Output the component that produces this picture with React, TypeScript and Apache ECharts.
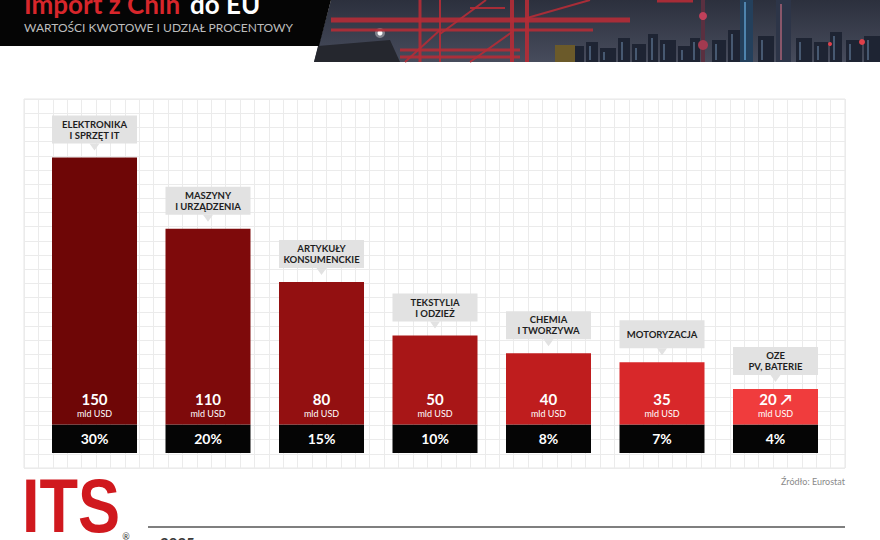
import React, { useEffect, useRef } from 'react';
import * as echarts from 'echarts';

// ---- data ----
const categories = [
  'ELEKTRONIKA\nI SPRZĘT IT',
  'MASZYNY\nI URZĄDZENIA',
  'ARTYKUŁY\nKONSUMENCKIE',
  'TEKSTYLIA\nI ODZIEŻ',
  'CHEMIA\nI TWORZYWA',
  'MOTORYZACJA',
  'OZE\nPV, BATERIE',
];
const importValues = [150, 110, 80, 50, 40, 35, 20]; // mld USD
const importShares = [30, 20, 15, 10, 8, 7, 4]; // %
const valueMarks = ['', '', '', '', '', '', ' ↗'];
const valueUnit = 'mld USD';
const barColors = ['#6e0606', '#7e0a0b', '#931011', '#a81617', '#bf1d1e', '#d8282a', '#f03c3d'];
const SHARE_BAND = 16; // constant height of the black "share" row (axis units)

const FONT = 'Lato, "Noto Sans", "DejaVu Sans", sans-serif';

function headerGraphics(): any[] {
  const els: any[] = [];
  // photo strip
  els.push({
    type: 'polygon',
    shape: { points: [[331, 0], [880, 0], [880, 62], [314, 62]] },
    style: {
      fill: new echarts.graphic.LinearGradient(0, 0, 0, 1, [
        { offset: 0, color: '#2c303d' },
        { offset: 1, color: '#474c5c' },
      ]),
    },
  });
  // dark roof at left of photo
  els.push({ type: 'polygon', shape: { points: [[318, 46], [390, 40], [400, 62], [314, 62]] }, style: { fill: '#25272e' } });
  els.push({ type: 'circle', shape: { cx: 380, cy: 33, r: 5 }, style: { fill: 'rgba(255,255,255,0.35)' } });
  els.push({ type: 'circle', shape: { cx: 380, cy: 33, r: 2.5 }, style: { fill: '#ffffff' } });
  // buildings
  const blds = [
    [570, 46, 14], [586, 42, 12], [600, 48, 16], [618, 38, 12], [632, 44, 14], [648, 34, 10],
    [660, 40, 16], [678, 46, 12], [690, 38, 10], [712, 40, 14], [728, 30, 12], [758, 36, 16],
    [796, 38, 16], [814, 42, 14], [830, 32, 12], [846, 40, 16], [864, 36, 16],
  ];
  blds.forEach(([x, t, w]) => {
    els.push({ type: 'rect', shape: { x, y: t, width: w, height: 62 - t }, style: { fill: '#1e2433' } });
    els.push({ type: 'rect', shape: { x: x + 3, y: t + 4, width: 2, height: 62 - t - 6 }, style: { fill: 'rgba(150,190,230,0.35)' } });
  });
  // towers
  els.push({ type: 'rect', shape: { x: 701, y: 0, width: 4, height: 62 }, style: { fill: '#5a3040' } });
  els.push({ type: 'circle', shape: { cx: 703, cy: 16, r: 4 }, style: { fill: '#c0405a' } });
  els.push({ type: 'circle', shape: { cx: 703, cy: 45, r: 5 }, style: { fill: '#a23a50' } });
  els.push({ type: 'rect', shape: { x: 740, y: 0, width: 13, height: 62 }, style: { fill: '#24405c' } });
  els.push({ type: 'rect', shape: { x: 744, y: 2, width: 2, height: 58 }, style: { fill: 'rgba(120,200,255,0.5)' } });
  els.push({ type: 'rect', shape: { x: 776, y: 0, width: 15, height: 62 }, style: { fill: '#2d3548' } });
  els.push({ type: 'rect', shape: { x: 780, y: 4, width: 2, height: 56 }, style: { fill: 'rgba(230,120,140,0.5)' } });
  els.push({ type: 'circle', shape: { cx: 862, cy: 42, r: 3 }, style: { fill: '#e0404a' } });
  els.push({ type: 'circle', shape: { cx: 830, cy: 44, r: 2 }, style: { fill: '#e0404a' } });
  // crane
  const red = '#b52c36';
  const lines = [
    [331, 20, 630, 20, 5], [331, 30, 593, 30, 3], [400, 50, 520, 50, 3], [400, 57, 520, 57, 3],
    [512, 0, 512, 62, 4], [527, 0, 527, 62, 4], [420, 0, 420, 62, 3], [440, 0, 440, 62, 2],
    [440, 34, 486, 0, 2], [470, 62, 512, 32, 2], [527, 18, 590, 0, 2], [405, 62, 440, 30, 2],
    [657, 1, 693, 1, 3], [470, 8, 505, 8, 2],
  ];
  lines.forEach(([x1, y1, x2, y2, w]) => {
    els.push({ type: 'line', shape: { x1, y1, x2, y2 }, style: { stroke: red, lineWidth: w, opacity: 0.9 } });
  });
  els.push({ type: 'rect', shape: { x: 555, y: 45, width: 20, height: 17 }, style: { fill: '#6b5a2a' } });
  // black title plate
  els.push({ type: 'polygon', shape: { points: [[0, 0], [331, 0], [319, 46], [0, 46]] }, style: { fill: '#050505' } });
  els.push({
    type: 'text', x: 24, y: 4,
    style: { text: 'Import z Chin', fill: '#d8262b', font: `bold 26px ${FONT}`, align: 'left', verticalAlign: 'middle' },
  });
  els.push({
    type: 'text', x: 190, y: 4,
    style: { text: 'do EU', fill: '#ffffff', font: `bold 26px ${FONT}`, align: 'left', verticalAlign: 'middle' },
  });
  els.push({
    type: 'text', x: 24, y: 27,
    style: { text: 'WARTOŚCI KWOTOWE I UDZIAŁ PROCENTOWY', fill: '#bdbdbd', font: `12px ${FONT}`, align: 'left', verticalAlign: 'middle' },
  });
  return els;
}

function footerGraphics(): any[] {
  return [
    {
      type: 'text', x: 845, y: 481,
      style: { text: 'Źródło: Eurostat', fill: '#8a8a8a', font: `9px ${FONT}`, align: 'right', verticalAlign: 'middle' },
    },
    {
      type: 'text', x: 22, y: 505.5, scaleX: 0.83,
      style: { text: 'ITS', fill: '#d0191e', font: 'bold 76px "Liberation Sans", Arial, sans-serif', align: 'left', verticalAlign: 'middle' },
    },
    {
      type: 'text', x: 126, y: 536,
      style: { text: '®', fill: '#333333', font: `9px ${FONT}`, align: 'center', verticalAlign: 'middle' },
    },
    { type: 'line', shape: { x1: 148, y1: 527, x2: 845, y2: 527 }, style: { stroke: '#555555', lineWidth: 1.5 } },
    {
      type: 'text', x: 160, y: 543,
      style: { text: '2025', fill: '#3a3a3a', font: `bold 15px ${FONT}`, align: 'left', verticalAlign: 'middle' },
    },
  ];
}

export default function App() {
  const ref = useRef<HTMLDivElement>(null);

  useEffect(() => {
    if (!ref.current) return;
    document.body.style.margin = '0';
    const chart = echarts.init(ref.current, undefined, { renderer: 'svg' });

    const option: any = {
      animation: false,
      backgroundColor: '#ffffff',
      grid: [
        { left: 37.75, width: 794.5, top: 97, height: 356, show: false },
        { left: 24, top: 99, width: 821, height: 369, show: true, borderColor: '#e6e6e6', borderWidth: 1, backgroundColor: 'transparent' },
      ],
      xAxis: [
        { type: 'category', gridIndex: 0, data: categories, show: false },
        {
          type: 'value', gridIndex: 1, min: 0, max: 57, interval: 1,
          axisLine: { show: false }, axisTick: { show: false }, axisLabel: { show: false },
          splitLine: { show: true, lineStyle: { color: '#ebebeb', width: 1 } },
        },
      ],
      yAxis: [
        { type: 'value', gridIndex: 0, min: 0, max: 200, show: false },
        {
          type: 'value', gridIndex: 1, min: 0, max: 26, interval: 1,
          axisLine: { show: false }, axisTick: { show: false }, axisLabel: { show: false },
          splitLine: { show: true, lineStyle: { color: '#ebebeb', width: 1 } },
        },
      ],
      series: [
        {
          name: 'udział',
          type: 'bar',
          stack: 'imp',
          xAxisIndex: 0,
          yAxisIndex: 0,
          barWidth: 85,
          data: importShares.map(() => SHARE_BAND),
          itemStyle: { color: '#050505' },
          label: {
            show: true,
            position: 'inside',
            formatter: (p: any) => `${importShares[p.dataIndex]}%`,
            color: '#ffffff',
            fontFamily: FONT,
            fontWeight: 'bold',
            fontSize: 14,
          },
          silent: true,
        },
        {
          name: 'wartość',
          type: 'bar',
          stack: 'imp',
          xAxisIndex: 0,
          yAxisIndex: 0,
          barWidth: 85,
          data: importValues.map((v, i) => ({ value: v, itemStyle: { color: barColors[i] } })),
          label: {
            show: true,
            position: 'insideBottom',
            distance: 6,
            formatter: (p: any) => `{v|${importValues[p.dataIndex]}${valueMarks[p.dataIndex]}}\n{u|${valueUnit}}`,
            rich: {
              v: { fontSize: 15, fontWeight: 'bold', color: '#ffffff', fontFamily: FONT, lineHeight: 17 },
              u: { fontSize: 9, color: '#ffffff', fontFamily: FONT, lineHeight: 11 },
            },
          },
          silent: true,
        },
        {
          name: 'kategoria',
          type: 'scatter',
          xAxisIndex: 0,
          yAxisIndex: 0,
          z: 5,
          symbol: 'path://M0,0L10,0L5,7Z',
          symbolSize: [10, 7],
          symbolOffset: [0, -10.5],
          itemStyle: { color: '#e2e2e2', opacity: 1 },
          data: importValues.map((v, i) => ({
            value: v + SHARE_BAND,
            label: { padding: categories[i].includes('\n') ? [3, 0, 3, 0] : [8.5, 0, 8.5, 0] },
          })),
          label: {
            show: true,
            position: 'top',
            distance: 0,
            formatter: (p: any) => categories[p.dataIndex],
            backgroundColor: '#e2e2e2',
            color: '#1e1e1e',
            fontFamily: FONT,
            fontWeight: 'bold',
            fontSize: 9.5,
            lineHeight: 11,
            width: 85,
            align: 'center',
          },
          silent: true,
        },
      ],
      graphic: [...headerGraphics(), ...footerGraphics()],
    };

    chart.setOption(option);
    return () => chart.dispose();
  }, []);

  return (
    <div
      ref={ref}
      style={{ position: 'fixed', left: 0, top: 0, width: 880, height: 540, background: '#ffffff' }}
    />
  );
}
